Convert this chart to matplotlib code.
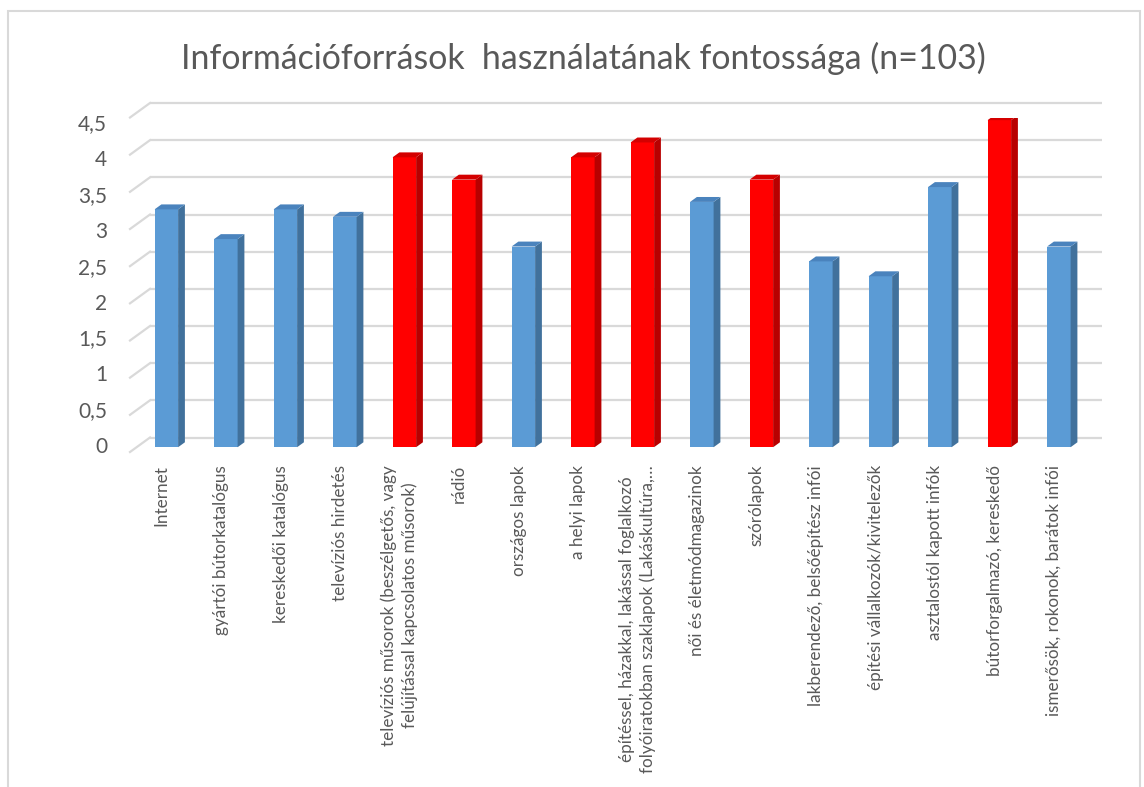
import matplotlib
matplotlib.use("Agg")
import matplotlib.pyplot as plt
from matplotlib import transforms
from matplotlib.patches import Rectangle

# ---- data -------------------------------------------------------------
title = "Információforrások  használatának fontossága (n=103)"

categories = [
    "Internet",
    "gyártói bútorkatalógus",
    "kereskedői katalógus",
    "televíziós hirdetés",
    "televíziós műsorok (beszélgetős, vagy\nfelújítással kapcsolatos műsorok)",
    "rádió",
    "országos lapok",
    "a helyi lapok",
    "építéssel, házakkal, lakással foglalkozó\nfolyóiratokban szaklapok (Lakáskultúra,…",
    "női és életmódmagazinok",
    "szórólapok",
    "lakberendező, belsőépítész infói",
    "építési vállalkozók/kivitelezők",
    "asztalostól kapott infók",
    "bútorforgalmazó, kereskedő",
    "ismerősök, rokonok, barátok infói",
]

scores = [3.2, 2.8, 3.2, 3.1, 3.9, 3.6, 2.7, 3.9, 4.1, 3.3, 3.6, 2.5, 2.3, 3.5, 4.4, 2.7]

highlighted = [False, False, False, False, True, True, False, True, True,
               False, True, False, False, False, True, False]

y_ticks = [0, 0.5, 1, 1.5, 2, 2.5, 3, 3.5, 4, 4.5]
y_tick_labels = ["0", "0,5", "1", "1,5", "2", "2,5", "3", "3,5", "4", "4,5"]

# ---- styling ----------------------------------------------------------
TEXT = "#595959"
GRID = "#d9d9d9"
BLUE = {"front": "#5b9bd5", "side": "#41719c", "top": "#4a83bd"}
RED = {"front": "#ff0000", "side": "#b80000", "top": "#d40000"}
FONT = "Lato"

W, H = 1144, 787
fig = plt.figure(figsize=(W / 100, H / 100), dpi=100)
fig.patch.set_facecolor("white")


def px_axes(left, top, right, bottom):
    return fig.add_axes([left / W, 1 - bottom / H, (right - left) / W, (bottom - top) / H])


# chart frame
fig.patches.append(Rectangle((8 / W, -0.05), (1140 - 8) / W, 1.05 - 11 / H,
                             transform=fig.transFigure, fill=False,
                             edgecolor=GRID, linewidth=1.5))

# front plane of the 3D plot
ax = px_axes(130, 117.5, 1082, 452)
n = len(categories)
ax.set_xlim(-0.5, n - 0.5)
ax.set_ylim(0, 4.5)
ax.axis("off")

# depth of the floor expressed in data units
px_x = (1082 - 130) / n
px_y = (452 - 117.5) / 4.5
DX, DY = 20 / px_x, 14.5 / px_y

# back wall gridlines and left wall slants
for v in y_ticks:
    ax.plot([-0.5 + DX, n - 0.5 + DX], [v + DY, v + DY], color=GRID, lw=1.6,
            zorder=1, clip_on=False, solid_capstyle="butt")
    ax.plot([-0.5, -0.5 + DX], [v, v + DY], color=GRID, lw=1.6,
            zorder=1, clip_on=False)

# 3D columns: front face, right side, top
f1, f2 = 0.33, 0.67
bw = 23.5 / px_x
for i, (val, hl) in enumerate(zip(scores, highlighted)):
    c = RED if hl else BLUE
    x0 = i - bw / 2 + f1 * DX
    x1 = i + bw / 2 + f1 * DX
    b1, b2 = f1 * DY, f2 * DY
    sh = (f2 - f1) * DX
    ax.bar(i + f1 * DX, val, width=bw, bottom=b1, color=c["front"],
           linewidth=0, zorder=3)
    ax.fill([x1, x1 + sh, x1 + sh, x1], [b1, b2, val + b2, val + b1],
            color=c["side"], linewidth=0, zorder=3)
    ax.fill([x0, x0 + sh, x1 + sh, x1], [val + b1, val + b2, val + b2, val + b1],
            color=c["top"], linewidth=0, zorder=3)

# category labels, rotated and hanging below the floor
lab_tr = transforms.blended_transform_factory(ax.transData, fig.transFigure)
for i, name in enumerate(categories):
    ax.text(i + 0.03, 1 - 465 / H, name, transform=lab_tr, rotation=90,
            ha="center", va="top", multialignment="center",
            fontsize=12.3, color=TEXT, family=FONT, linespacing=1.35)

# value axis labels
lab_ax = px_axes(110, 122.5, 120, 445)
lab_ax.set_ylim(0, 4.5)
lab_ax.set_yticks(y_ticks)
lab_ax.set_yticklabels(y_tick_labels)
lab_ax.set_xticks([])
lab_ax.tick_params(axis="y", length=0, pad=2, labelsize=15, labelcolor=TEXT)
for lbl in lab_ax.get_yticklabels():
    lbl.set_family(FONT)
for s in lab_ax.spines.values():
    s.set_visible(False)
lab_ax.patch.set_visible(False)

fig.text(583 / W, 1 - 58 / H, title, ha="center", va="center",
         fontsize=24.4, color=TEXT, family=FONT)

fig.savefig("out.png", dpi=100, facecolor="white")
